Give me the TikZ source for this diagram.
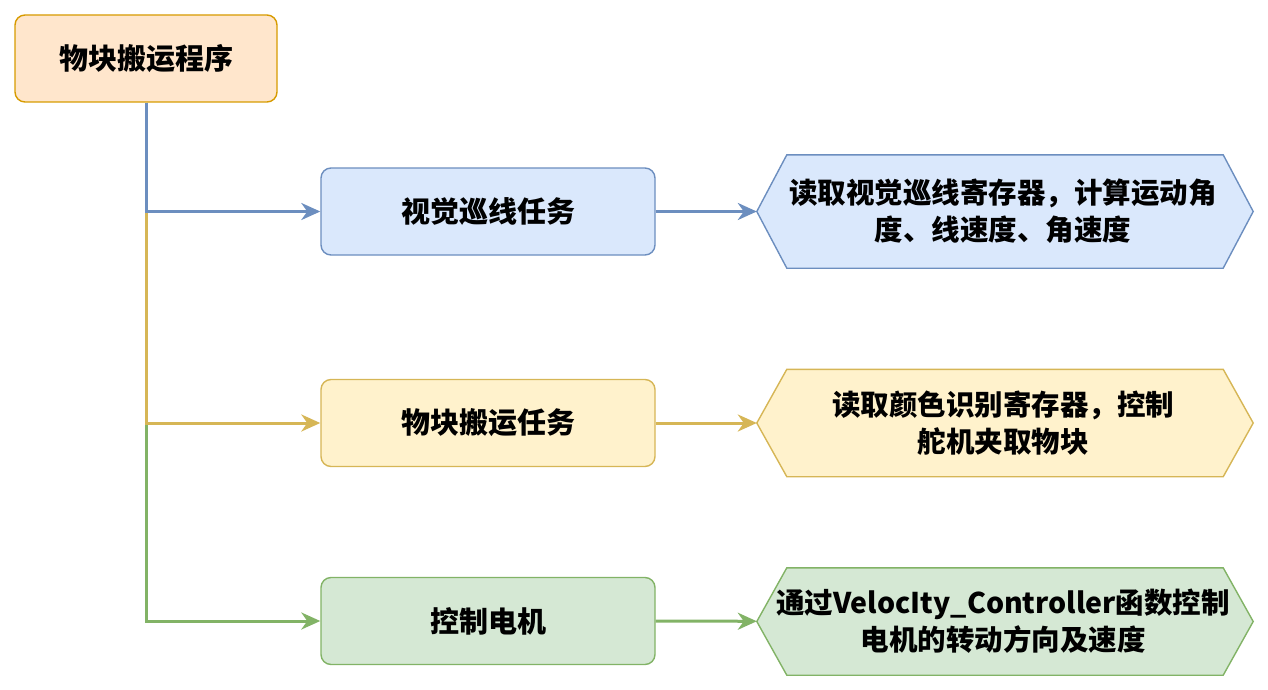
\documentclass[tikz,border=0pt]{standalone}
\usepackage{fontspec}
\setmainfont{Noto Sans CJK SC}
\usetikzlibrary{arrows.meta}
\definecolor{orangefill}{HTML}{FFE6CC}
\definecolor{orangeline}{HTML}{D79B00}
\definecolor{bluefill}{HTML}{DAE8FC}
\definecolor{blueline}{HTML}{6C8EBF}
\definecolor{yellowfill}{HTML}{FFF2CC}
\definecolor{yellowline}{HTML}{D6B656}
\definecolor{greenfill}{HTML}{D5E8D4}
\definecolor{greenline}{HTML}{82B366}
\tikzset{
task/.style={ % rounded boxes
rectangle, rounded corners=10pt,
line width=1.4pt,
minimum width=334pt, minimum height=87pt,
font=\bfseries\fontsize{29}{35}\selectfont},
detail/.style={ % frame of the six-sided boxes
rectangle, inner sep=0pt,
minimum width=496pt, minimum height=107pt},
detailtext/.style={ % text inside the six-sided boxes
align=center, inner sep=0pt,
font=\bfseries\fontsize{28.5}{37}\selectfont},
link/.style={ % connectors
line width=3pt,
-{Stealth[length=19pt,width=17pt,inset=6pt]}}}

\begin{document}
\begin{tikzpicture}[x=1pt, y=-1pt]
	\useasboundingbox (0,0) rectangle (1268,690);
	\node[task, minimum width=262pt, fill=orangefill, draw=orangeline] (main) at (146,58.5) {物块搬运程序};
	\node[task, fill=bluefill, draw=blueline] (line) at (488,211.5) {视觉巡线任务};
	\node[task, fill=yellowfill, draw=yellowline] (carry) at (488,423) {物块搬运任务};
	\node[task, fill=greenfill, draw=greenline] (motor) at (488,621) {控制电机};
	\node[detail, minimum height=113pt] (lineinfo) at (1005,211.5) {};
	\node[detail] (carryinfo) at (1005,423) {};
	\node[detail] (motorinfo) at (1005,621.5) {};
	\foreach \n/\f/\d in {lineinfo/bluefill/blueline, carryinfo/yellowfill/yellowline, motorinfo/greenfill/greenline}
		\draw[line width=1.4pt, fill=\f, draw=\d] (\n.west) -- ([xshift=30pt]\n.north west) -- ([xshift=-30pt]\n.north east)
			-- (\n.east) -- ([xshift=-30pt]\n.south east) -- ([xshift=30pt]\n.south west) -- cycle;
	\node[detailtext] (linetext) at ([xshift=-2pt]lineinfo.center) {读取视觉巡线寄存器，计算运动角\\度、线速度、角速度};
	\node[detailtext] (carrytext) at ([xshift=-2pt]carryinfo.center) {读取颜色识别寄存器，控制\\舵机夹取物块};
	\node[detailtext] (motortext) at ([xshift=-2pt]motorinfo.center) {通过VelocIty\_Controller函数控制\\电机的转动方向及速度};
	\draw[link, draw=greenline] (main.south) |- (motor.west);
	\draw[link, draw=yellowline] (main.south) |- (carry.west);
	\draw[link, draw=blueline] (main.south) |- (line.west);
	\draw[link, draw=blueline] (line) -- (lineinfo);
	\draw[link, draw=yellowline] (carry) -- (carryinfo);
	\draw[link, draw=greenline] (motor) -- (motorinfo);
\end{tikzpicture}
\end{document}
